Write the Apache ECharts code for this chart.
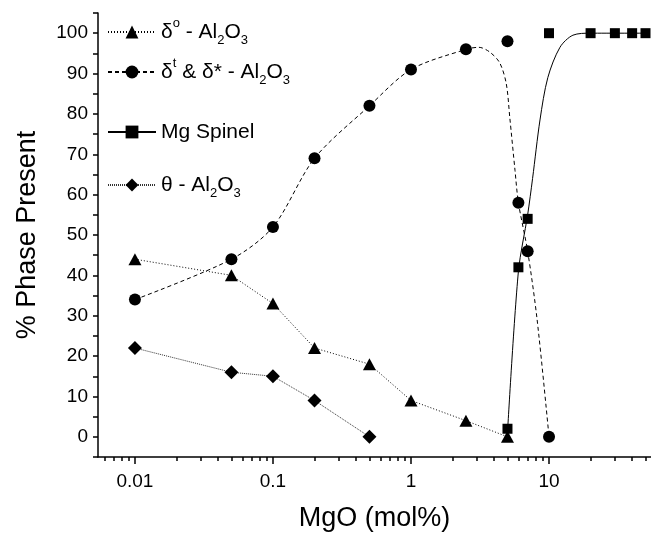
<!DOCTYPE html>
<html>
<head>
<meta charset="utf-8">
<script src="https://cdn.jsdelivr.net/npm/echarts@6/dist/echarts.min.js"></script>
<style>
  html, body { margin: 0; padding: 0; background: #fff; }
  #chart { width: 651px; height: 537px; }
</style>
</head>
<body>
<div id="chart"></div>
<script>
// series names (legend)
var names = ["δo - Al2O3", "δt & δ* - Al2O3", "Mg Spinel", "θ - Al2O3"];

// δ° - Al2O3 (triangles)
var xDeltaO = [0.01, 0.05, 0.1, 0.2, 0.5, 1, 2.5, 5];
var yDeltaO = [44, 40, 33, 22, 18, 9, 4, 0];

// δt & δ* - Al2O3 (circles) and its drawn fit curve
var xDeltaT = [0.01, 0.05, 0.1, 0.2, 0.5, 1, 2.5, 5, 6, 7, 10];
var yDeltaT = [34, 44, 52, 69, 82, 91, 96, 98, 58, 46, 0];
var xDeltaTFit = [0.01, 0.05, 0.1, 0.2, 0.5, 1, 2.5, 3.1, 3.73, 4.4, 4.9, 5.2, 5.67, 6, 7, 8.2, 10];
var yDeltaTFit = [34, 44, 52, 69, 82, 91, 96, 96.5, 95.3, 92.6, 87.5, 79, 66, 58, 46, 29, 0];

// Mg spinel (squares) and its drawn fit curve
var xSpinel = [5, 6, 7, 10, 20, 30, 40, 50];
var ySpinel = [2, 42, 54, 100, 100, 100, 100, 100];
var xSpinelFit = [5, 6, 7, 7.6, 8.6, 9.8, 12, 14.9, 20, 50];
var ySpinelFit = [1, 41, 55, 64, 78.5, 89, 96.5, 99.5, 100, 100];

// θ - Al2O3 (diamonds)
var xTheta = [0.01, 0.05, 0.1, 0.2, 0.5];
var yTheta = [22, 16, 15, 9, 0];

// axis ticks
var xMajorTicks = [0.01, 0.1, 1, 10];
var xMinorTicks = [0.006, 0.007, 0.008, 0.009,
  0.02, 0.03, 0.04, 0.05, 0.06, 0.07, 0.08, 0.09,
  0.2, 0.3, 0.4, 0.5, 0.6, 0.7, 0.8, 0.9,
  2, 3, 4, 5, 6, 7, 8, 9,
  20, 30, 40, 50];
var yLabels = [0, 10, 20, 30, 40, 50, 60, 70, 80, 90, 100];

var FONT = "Liberation Sans, Arial, sans-serif";

function zip(xs, ys) {
  return xs.map(function (x, i) { return [x, ys[i]]; });
}

// legend labels with sub/superscripts
var legendLabels = {};
legendLabels[names[0]] = "δ{deg|o} - Al{sub|2}O{sub|3}";
legendLabels[names[1]] = "δ{sup|t} & δ* - Al{sub|2}O{sub|3}";
legendLabels[names[2]] = "Mg Spinel";
legendLabels[names[3]] = "θ - Al{sub|2}O{sub|3}";

var legendTops = [17, 57, 117, 170];

function makeLegend(i) {
  return {
    data: [names[i]],
    left: 107,
    top: legendTops[i],
    padding: 0,
    itemWidth: 48,
    itemHeight: 16,
    selectedMode: false,
    formatter: function (name) { return legendLabels[name]; },
    textStyle: {
      color: "#000",
      fontFamily: FONT,
      fontSize: 21,
      lineHeight: 30,
      rich: {
        sub: { fontFamily: FONT, fontSize: 13, lineHeight: 12, verticalAlign: "bottom", color: "#000" },
        sup: { fontFamily: FONT, fontSize: 13, lineHeight: 12, verticalAlign: "top", color: "#000" },
        deg: { fontFamily: FONT, fontSize: 13, lineHeight: 22, verticalAlign: "top", color: "#000" }
      }
    }
  };
}

var xMin = 0.0054, xMax = 54.8;

var myChart = echarts.init(document.getElementById("chart"));

var option = {
  animation: false,
  backgroundColor: "#fff",
  grid: { left: 98, right: 0, top: 13, bottom: 79, containLabel: false },
  legend: [makeLegend(0), makeLegend(1), makeLegend(2), makeLegend(3)],
  xAxis: [
    {
      type: "log",
      logBase: 10,
      min: xMin,
      max: xMax,
      position: "bottom",
      name: "MgO (mol%)",
      nameLocation: "middle",
      nameGap: 48,
      nameTextStyle: { fontFamily: FONT, fontSize: 27, color: "#000" },
      axisLine: { show: true, onZero: false, lineStyle: { color: "#000", width: 1.5 } },
      axisTick: { show: true, customValues: xMajorTicks, length: 7, lineStyle: { color: "#000", width: 1.5 } },
      axisLabel: {
        customValues: xMajorTicks,
        fontFamily: FONT, fontSize: 19, color: "#000", margin: 15,
        formatter: function (v) { return String(v); }
      },
      splitLine: { show: false }
    },
    {
      // minor ticks only
      type: "log",
      logBase: 10,
      min: xMin,
      max: xMax,
      position: "bottom",
      axisLine: { show: true, onZero: false, lineStyle: { color: "rgba(0,0,0,0)" } },
      axisTick: { show: true, customValues: xMinorTicks, length: 4, lineStyle: { color: "#000", width: 1.5 } },
      axisLabel: { show: true, customValues: xMinorTicks, color: "rgba(0,0,0,0)", formatter: function () { return ""; } },
      splitLine: { show: false }
    }
  ],
  yAxis: {
    type: "value",
    min: -5,
    max: 105,
    interval: 5,
    position: "left",
    name: "% Phase Present",
    nameLocation: "middle",
    nameGap: 57,
    nameTextStyle: { fontFamily: FONT, fontSize: 27, color: "#000" },
    axisLine: { show: true, onZero: false, lineStyle: { color: "#000", width: 1.5 } },
    axisTick: { show: true, length: 5, lineStyle: { color: "#000", width: 1.5 } },
    axisLabel: {
      fontFamily: FONT, fontSize: 19, color: "#000", margin: 10,
      hideOverlap: false,
      showMinLabel: true,
      showMaxLabel: true,
      formatter: function (v) { return yLabels.indexOf(v) >= 0 ? String(v) : " "; }
    },
    splitLine: { show: false }
  },
  series: [
    {
      name: names[0],
      type: "line",
      data: zip(xDeltaO, yDeltaO),
      symbol: "triangle",
      symbolSize: [13, 12],
      itemStyle: { color: "#000" },
      lineStyle: { color: "#000", width: 1, type: [1, 2] },
      z: 3
    },
    {
      name: names[1],
      type: "line",
      data: zip(xDeltaTFit, yDeltaTFit),
      symbol: "circle",
      showSymbol: false,
      smooth: 0.3,
      itemStyle: { color: "#000" },
      lineStyle: { color: "#000", width: 1, type: [4, 3] },
      z: 2
    },
    {
      name: names[1],
      type: "scatter",
      data: zip(xDeltaT, yDeltaT),
      symbol: "circle",
      symbolSize: 12,
      itemStyle: { color: "#000", opacity: 1 },
      z: 4
    },
    {
      name: names[2],
      type: "line",
      data: zip(xSpinelFit, ySpinelFit),
      symbol: "rect",
      showSymbol: false,
      smooth: 0.3,
      itemStyle: { color: "#000" },
      lineStyle: { color: "#000", width: 1, type: "solid" },
      z: 2
    },
    {
      name: names[2],
      type: "scatter",
      data: zip(xSpinel, ySpinel),
      symbol: "rect",
      symbolSize: 10,
      itemStyle: { color: "#000", opacity: 1 },
      z: 4
    },
    {
      name: names[3],
      type: "line",
      data: zip(xTheta, yTheta),
      symbol: "diamond",
      symbolSize: 14,
      itemStyle: { color: "#000" },
      lineStyle: { color: "#333", width: 1, type: [1, 1] },
      z: 3
    }
  ]
};

myChart.setOption(option);
</script>
</body>
</html>
